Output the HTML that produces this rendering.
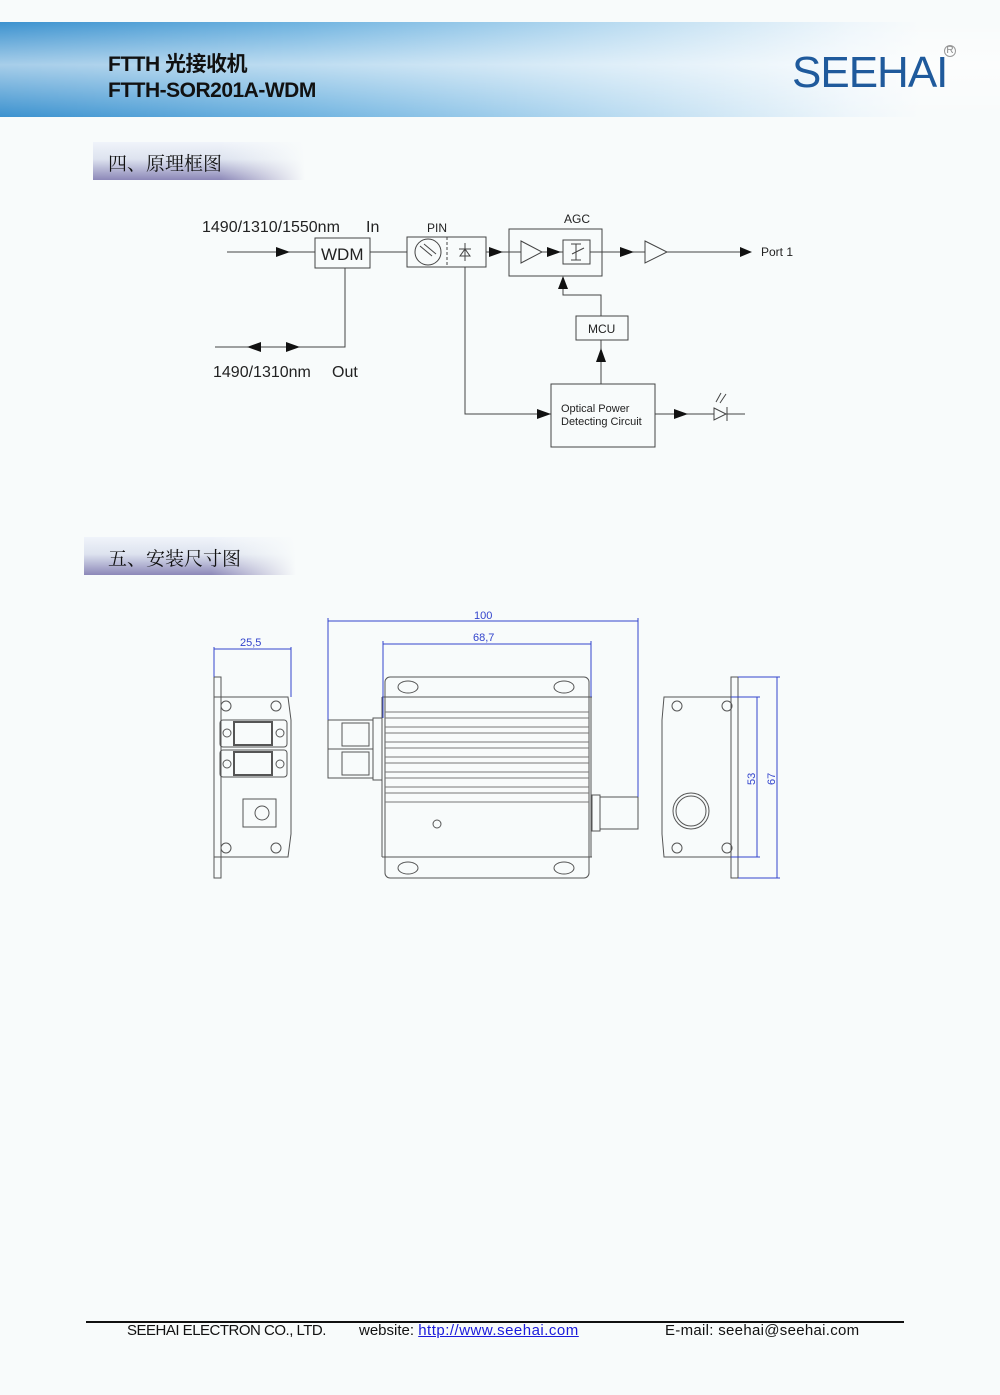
<!DOCTYPE html>
<html><head><meta charset="utf-8"><style>
html,body{margin:0;padding:0;background:#f8fbfb;}
body{width:1000px;height:1395px;position:relative;overflow:hidden;font-family:"Liberation Sans","Noto Sans CJK SC",sans-serif;}
.band{position:absolute;left:0;top:22px;width:1000px;height:95px;background:linear-gradient(180deg,rgba(255,255,255,0) 0%,rgba(255,255,255,0.55) 45%,rgba(255,255,255,0) 100%),linear-gradient(90deg,#3c92cf 0%,#6fb3e0 30%,#b5d9f0 60%,#eef6fb 85%,#f8fbfb 92%);}
.t1{position:absolute;left:108px;top:48px;font-size:21px;font-weight:bold;color:#111;letter-spacing:-0.5px}
.t2{position:absolute;left:108px;top:79px;font-size:21px;font-weight:bold;color:#111;letter-spacing:-0.5px}
.logo{position:absolute;left:792px;top:48px;font-size:44px;color:#1f5a9c;letter-spacing:-1px}
.reg{position:absolute;left:944px;top:45px;font-size:10px;color:#888;border:1px solid #999;border-radius:50%;width:10px;height:10px;line-height:10px;text-align:center}
.sec{position:absolute;height:38px;background:linear-gradient(180deg,#f0f4fa 0%,#dde3ef 45%,#8c88b8 100%);}
.sec::after{content:"";position:absolute;inset:0;background:linear-gradient(90deg,rgba(248,251,251,0) 60%,#f8fbfb 100%);}
.sec span{z-index:1;font-family:"Noto Serif CJK SC","Noto Sans CJK SC",serif;font-size:19px;color:#111;position:absolute;top:7px}
.foot{position:absolute;top:1321px;left:86px;width:818px;border-top:2px solid #111}
.ft{position:absolute;top:1322px;font-size:15px;color:#111}
</style></head><body>
<div class="band"></div>
<div class="t1">FTTH 光接收机</div>
<div class="t2">FTTH-SOR201A-WDM</div>
<div class="logo">SEEHAI</div>
<div class="reg">R</div>
<div class="sec" style="left:93px;top:142px;width:212px"><span style="left:15px">四、原理框图</span></div>
<div class="sec" style="left:84px;top:537px;width:212px"><span style="left:24px">五、安装尺寸图</span></div>

<svg style="position:absolute;left:0;top:0" width="1000" height="1395" font-family="Liberation Sans, sans-serif">
<g stroke="#444" stroke-width="1" fill="none">
<line x1="227" y1="252" x2="315" y2="252"/>
<path d="M276,247 L290,252 L276,257z" fill="#111" stroke="none"/>
<rect x="315" y="238" width="55" height="30"/>
<line x1="370" y1="252" x2="407" y2="252"/>
<rect x="407" y="237" width="79" height="30"/>
<line x1="447" y1="237" x2="447" y2="267" stroke-dasharray="3,2"/>
<circle cx="428" cy="252" r="13"/>
<line x1="420" y1="246" x2="432" y2="256"/><line x1="424" y1="244" x2="436" y2="254"/>
<path d="M460,249 L470,249 M465,243 L465,261 M460,256 L465,249 L470,256z M459,249 L471,249"/>
<line x1="486" y1="252" x2="509" y2="252"/>
<path d="M489,247 L503,252 L489,257z" fill="#111" stroke="none"/>
<rect x="509" y="229" width="93" height="47"/>
<line x1="509" y1="252" x2="521" y2="252"/>
<path d="M521,241 L542,252 L521,263z"/>
<line x1="542" y1="252" x2="563" y2="252"/>
<path d="M547,247 L561,252 L547,257z" fill="#111" stroke="none"/>
<rect x="563" y="240" width="27" height="24"/>
<path d="M571,244 L581,244 M576,244 L576,260 M571,260 L581,260 M572,254 L584,248"/>
<line x1="590" y1="252" x2="645" y2="252"/>
<path d="M620,247 L634,252 L620,257z" fill="#111" stroke="none"/>
<path d="M645,241 L667,252 L645,263z"/>
<line x1="667" y1="252" x2="750" y2="252"/>
<path d="M740,247 L752,252 L740,257z" fill="#111" stroke="none"/>
<rect x="576" y="316" width="52" height="24"/>
<path d="M601,316 L601,295 L563,295 L563,278"/>
<path d="M558,289 L563,276 L568,289z" fill="#111" stroke="none"/>
<path d="M345,268 L345,347 L215,347"/>
<path d="M261,342 L247,347 L261,352z" fill="#111" stroke="none"/>
<path d="M286,342 L300,347 L286,352z" fill="#111" stroke="none"/>
<path d="M465,267 L465,414 L551,414"/>
<path d="M537,409 L551,414 L537,419z" fill="#111" stroke="none"/>
<rect x="551" y="384" width="104" height="63"/>
<line x1="601" y1="384" x2="601" y2="340"/>
<path d="M596,362 L601,348 L606,362z" fill="#111" stroke="none"/>
<line x1="655" y1="414" x2="745" y2="414"/>
<path d="M674,409 L688,414 L674,419z" fill="#111" stroke="none"/>
<path d="M714,408 L726,414 L714,420z" fill="#f8fbfb"/>
<line x1="727" y1="407" x2="727" y2="421"/>
<path d="M716,402 L721,393 M720,403 L726,394"/>
</g>
<g font-size="16" fill="#222">
<text x="202" y="232">1490/1310/1550nm</text>
<text x="366" y="232">In</text>
<text x="321" y="260" font-size="17">WDM</text>
<text x="213" y="377">1490/1310nm</text>
<text x="332" y="377">Out</text>
</g>
<g font-size="12" fill="#222">
<text x="427" y="232">PIN</text>
<text x="564" y="223">AGC</text>
<text x="761" y="256">Port 1</text>
<text x="588" y="333">MCU</text>
<text x="561" y="412" font-size="11">Optical Power</text>
<text x="561" y="425" font-size="11">Detecting Circuit</text>
</g>

<g stroke="#555" stroke-width="1" fill="none">
<rect x="214" y="677" width="7" height="201"/>
<path d="M214,697 L288,697 L291,720 L291,834 L288,857 L214,857z"/>
<circle cx="226" cy="706" r="5"/><circle cx="276" cy="706" r="5"/>
<circle cx="226" cy="848" r="5"/><circle cx="276" cy="848" r="5"/>
<rect x="220" y="720" width="67" height="27" rx="3"/>
<rect x="220" y="750" width="67" height="27" rx="3"/>
<rect x="234" y="722" width="38" height="23" stroke-width="2"/>
<rect x="234" y="752" width="38" height="23" stroke-width="2"/>
<circle cx="227" cy="733" r="4"/><circle cx="280" cy="733" r="4"/>
<circle cx="227" cy="764" r="4"/><circle cx="280" cy="764" r="4"/>
<rect x="243" y="799" width="33" height="28"/>
<circle cx="262" cy="813" r="7"/>
<rect x="385" y="677" width="204" height="201" rx="5"/>
<line x1="382" y1="697" x2="592" y2="697"/>
<line x1="382" y1="857" x2="592" y2="857"/>
<line x1="382" y1="697" x2="382" y2="857"/>
<line x1="591" y1="697" x2="591" y2="857"/>
<g stroke="#777">
<line x1="385" y1="712" x2="589" y2="712"/><line x1="385" y1="718" x2="589" y2="718"/>
<line x1="385" y1="727" x2="589" y2="727"/><line x1="385" y1="733" x2="589" y2="733"/>
<line x1="385" y1="742" x2="589" y2="742"/><line x1="385" y1="748" x2="589" y2="748"/>
<line x1="385" y1="757" x2="589" y2="757"/><line x1="385" y1="763" x2="589" y2="763"/>
<line x1="385" y1="772" x2="589" y2="772"/><line x1="385" y1="778" x2="589" y2="778"/>
<line x1="385" y1="787" x2="589" y2="787"/><line x1="385" y1="793" x2="589" y2="793"/>
<line x1="385" y1="802" x2="589" y2="802"/>
</g>
<ellipse cx="408" cy="687" rx="10" ry="6"/><ellipse cx="564" cy="687" rx="10" ry="6"/>
<ellipse cx="408" cy="868" rx="10" ry="6"/><ellipse cx="564" cy="868" rx="10" ry="6"/>
<circle cx="437" cy="824" r="4"/>
<rect x="328" y="720" width="45" height="58"/>
<rect x="373" y="718" width="9" height="62"/>
<line x1="328" y1="749" x2="373" y2="749"/>
<rect x="342" y="723" width="27" height="23"/>
<rect x="342" y="752" width="27" height="23"/>
<rect x="592" y="795" width="8" height="36"/>
<rect x="600" y="797" width="38" height="32"/>
<rect x="731" y="677" width="7" height="201"/>
<path d="M664,697 L731,697 L731,857 L664,857 L662,834 L662,720z"/>
<circle cx="677" cy="706" r="5"/><circle cx="727" cy="706" r="5"/>
<circle cx="677" cy="848" r="5"/><circle cx="727" cy="848" r="5"/>
<circle cx="691" cy="811" r="18"/><circle cx="691" cy="811" r="15"/>
</g>
<g stroke="#3344cc" stroke-width="1" fill="none">
<line x1="214" y1="647" x2="214" y2="677"/><line x1="291" y1="647" x2="291" y2="697"/>
<line x1="214" y1="649" x2="291" y2="649"/>
<line x1="328" y1="618" x2="328" y2="720"/><line x1="638" y1="618" x2="638" y2="797"/>
<line x1="328" y1="621" x2="638" y2="621"/>
<line x1="383" y1="641" x2="383" y2="718"/><line x1="591" y1="641" x2="591" y2="697"/>
<line x1="383" y1="644" x2="591" y2="644"/>
<line x1="738" y1="677" x2="780" y2="677"/><line x1="738" y1="878" x2="780" y2="878"/>
<line x1="731" y1="697" x2="760" y2="697"/><line x1="731" y1="857" x2="760" y2="857"/>
<line x1="757" y1="697" x2="757" y2="857"/>
<line x1="777" y1="677" x2="777" y2="878"/>
</g>
<g fill="#3344cc" font-size="11">
<text x="240" y="646">25,5</text>
<text x="474" y="619">100</text>
<text x="473" y="641">68,7</text>
<text transform="translate(755,785) rotate(-90)">53</text>
<text transform="translate(775,785) rotate(-90)">67</text>
</g>
</svg>

<div class="foot"></div>
<div class="ft" style="left:127px;letter-spacing:-0.5px">SEEHAI ELECTRON CO., LTD.</div>
<div class="ft" style="left:359px">website: <span style="color:#1a1adb;text-decoration:underline;letter-spacing:0.5px">http://www.seehai.com</span></div>
<div class="ft" style="left:665px;letter-spacing:0.3px">E-mail: seehai@seehai.com</div>
</body></html>
